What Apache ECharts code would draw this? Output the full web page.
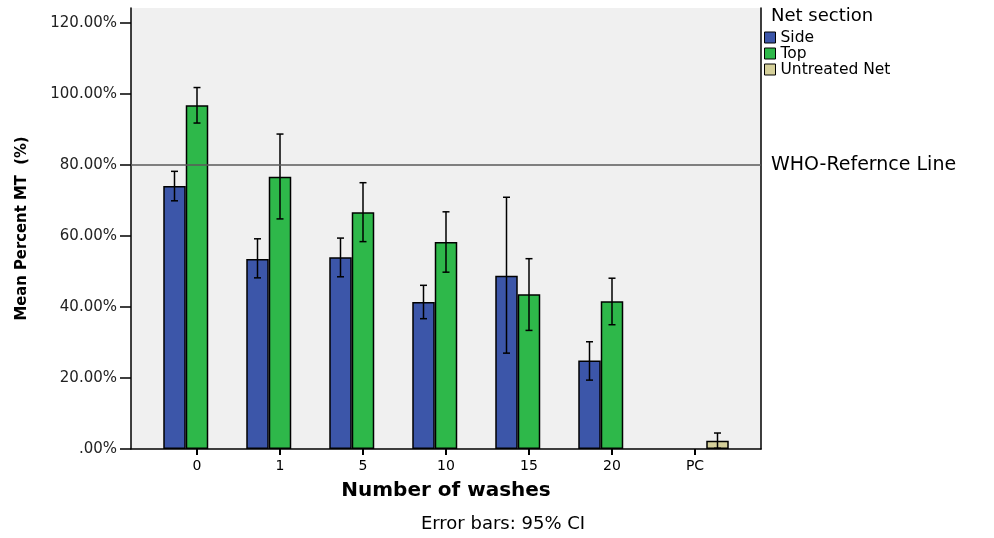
<!DOCTYPE html>
<html>
<head>
<meta charset="utf-8">
<script src="https://cdn.jsdelivr.net/npm/echarts@6/dist/echarts.min.js"></script>
<style>
html,body{margin:0;padding:0;background:#fff;}
#chart{width:994px;height:538px;}
</style>
</head>
<body>
<div id="chart"></div>
<script>
// ---- data ----
const categories = ['0', '1', '5', '10', '15', '20', 'PC'];
const sideValues = [74.1, 53.5, 54.0, 41.4, 48.8, 24.9, null];
const sideLow    = [69.9, 48.2, 48.5, 36.7, 27.0, 19.4, null];
const sideHigh   = [78.2, 59.2, 59.4, 46.1, 70.9, 30.2, null];
const topValues  = [96.8, 76.7, 66.7, 58.3, 43.6, 41.6, null];
const topLow     = [91.8, 64.8, 58.4, 49.8, 33.4, 35.0, null];
const topHigh    = [101.8, 88.7, 75.0, 66.8, 53.6, 48.1, null];
const untreatedValues = [null, null, null, null, null, null, 2.3];
const untreatedLow    = [null, null, null, null, null, null, 0.2];
const untreatedHigh   = [null, null, null, null, null, null, 4.5];
const referenceLine = 80;
const yTicks = [0, 20, 40, 60, 80, 100, 120];
const yMax = 124.2;

// ---- build ----
const BAR_W = 22.5;
const colors = ['#3c56a9', '#2eb84a', '#d5d09a'];
const groups = [
  {name: 'Side', v: sideValues, lo: sideLow, hi: sideHigh},
  {name: 'Top', v: topValues, lo: topLow, hi: topHigh},
  {name: 'Untreated Net', v: untreatedValues, lo: untreatedLow, hi: untreatedHigh}
];
const errData = [];
groups.forEach((g, s) => {
  g.lo.forEach((lo, i) => {
    if (lo != null && g.hi[i] != null) errData.push([i, lo, g.hi[i], s]);
  });
});

const chart = echarts.init(document.getElementById('chart'), null, {renderer: 'canvas'});
const FONT = 'DejaVu Sans';

const barSeries = groups.map((g, s) => ({
  name: g.name,
  type: 'bar',
  xAxisIndex: 1,
  yAxisIndex: 1,
  data: g.v,
  barWidth: BAR_W,
  barGap: '0%',
  itemStyle: {color: colors[s], borderColor: '#000', borderWidth: 1.5},
  z: 2
}));

const option = {
  animation: false,
  backgroundColor: '#fff',
  textStyle: {fontFamily: FONT},
  title: {
    text: 'Net section', left: 771, top: 7, padding: 0,
    textStyle: {fontFamily: FONT, fontSize: 18, fontWeight: 'normal', color: '#000'}
  },
  legend: {
    data: groups.map(g => g.name),
    orient: 'vertical', left: 764, top: 29.5, padding: 0,
    itemWidth: 11, itemHeight: 11, itemGap: 0,
    icon: 'rect',
    itemStyle: {borderColor: '#000', borderWidth: 1},
    textStyle: {fontFamily: FONT, fontSize: 15.5, lineHeight: 15, color: '#000'},
    selectedMode: false
  },
  grid: [
    {left: 131, right: 233, top: 8, bottom: 89, show: true, backgroundColor: '#f0f0f0', borderWidth: 0},
    {left: 155.5, right: 257.5, top: 8, bottom: 89}
  ],
  xAxis: [
    {
      type: 'value', gridIndex: 0, min: 0, max: 1,
      axisLine: {show: true, lineStyle: {color: '#000', width: 1.5}},
      axisTick: {show: false}, axisLabel: {show: false}, splitLine: {show: false}
    },
    {
      type: 'category', gridIndex: 1, data: categories,
      axisLine: {show: false},
      axisTick: {show: true, alignWithLabel: true, length: 6, lineStyle: {color: '#000', width: 2}},
      axisLabel: {fontFamily: FONT, fontSize: 14, color: '#000', margin: 10},
      name: 'Number of washes', nameLocation: 'middle', nameGap: 32,
      nameTextStyle: {fontFamily: FONT, fontSize: 20, fontWeight: 'bold', color: '#000'}
    }
  ],
  yAxis: [
    {
      type: 'value', gridIndex: 0, min: 0, max: yMax,
      axisLine: {show: true, lineStyle: {color: '#000', width: 1.5}},
      axisTick: {show: true, length: 11, customValues: yTicks, lineStyle: {color: '#000', width: 1.5}},
      axisLabel: {
        customValues: yTicks, fontFamily: FONT, fontSize: 15, color: '#222', margin: 14,
        formatter: v => (v === 0 ? '.00%' : v.toFixed(2) + '%')
      },
      splitLine: {show: false},
      name: 'Mean Percent MT  (%)', nameLocation: 'middle', nameGap: 101, nameRotate: 90,
      nameTextStyle: {fontFamily: "'DejaVu Sans Condensed', sans-serif", fontSize: 16.5, fontWeight: 'bold', color: '#000'}
    },
    {
      type: 'value', gridIndex: 1, min: 0, max: yMax, show: false
    },
    {
      type: 'value', gridIndex: 0, min: 0, max: yMax, position: 'right',
      axisLine: {show: true, lineStyle: {color: '#000', width: 1.5}},
      axisTick: {show: false}, axisLabel: {show: false}, splitLine: {show: false}
    }
  ],
  graphic: [
    {
      type: 'text', x: 503, y: 524, silent: true,
      style: {text: 'Error bars: 95% CI', fontFamily: FONT, fontSize: 18, fill: '#000', align: 'center', verticalAlign: 'middle'}
    }
  ],
  series: barSeries.concat([
    {
      name: 'CI',
      type: 'custom',
      xAxisIndex: 1,
      yAxisIndex: 1,
      data: errData,
      z: 4,
      silent: true,
      renderItem: function (params, api) {
        const idx = api.value(0);
        const s = api.value(3);
        const lo = api.coord([idx, api.value(1)]);
        const hi = api.coord([idx, api.value(2)]);
        const x = lo[0] + (s - 1) * BAR_W;
        const cap = 3.5;
        const st = {stroke: '#000', lineWidth: 1.5};
        return {
          type: 'group',
          children: [
            {type: 'line', shape: {x1: x, y1: lo[1], x2: x, y2: hi[1]}, style: st},
            {type: 'line', shape: {x1: x - cap, y1: lo[1], x2: x + cap, y2: lo[1]}, style: st},
            {type: 'line', shape: {x1: x - cap, y1: hi[1], x2: x + cap, y2: hi[1]}, style: st}
          ]
        };
      }
    },
    {
      name: 'WHO',
      type: 'line',
      xAxisIndex: 0,
      yAxisIndex: 0,
      data: [[0, referenceLine], [1, referenceLine]],
      symbol: 'none',
      silent: true,
      z: 5,
      lineStyle: {color: '#5a5a5a', width: 1.5},
      endLabel: {show: true, formatter: 'WHO-Refernce Line', distance: 10, fontFamily: FONT, fontSize: 19, color: '#000'}
    }
  ])
};
chart.setOption(option);
</script>
</body>
</html>
